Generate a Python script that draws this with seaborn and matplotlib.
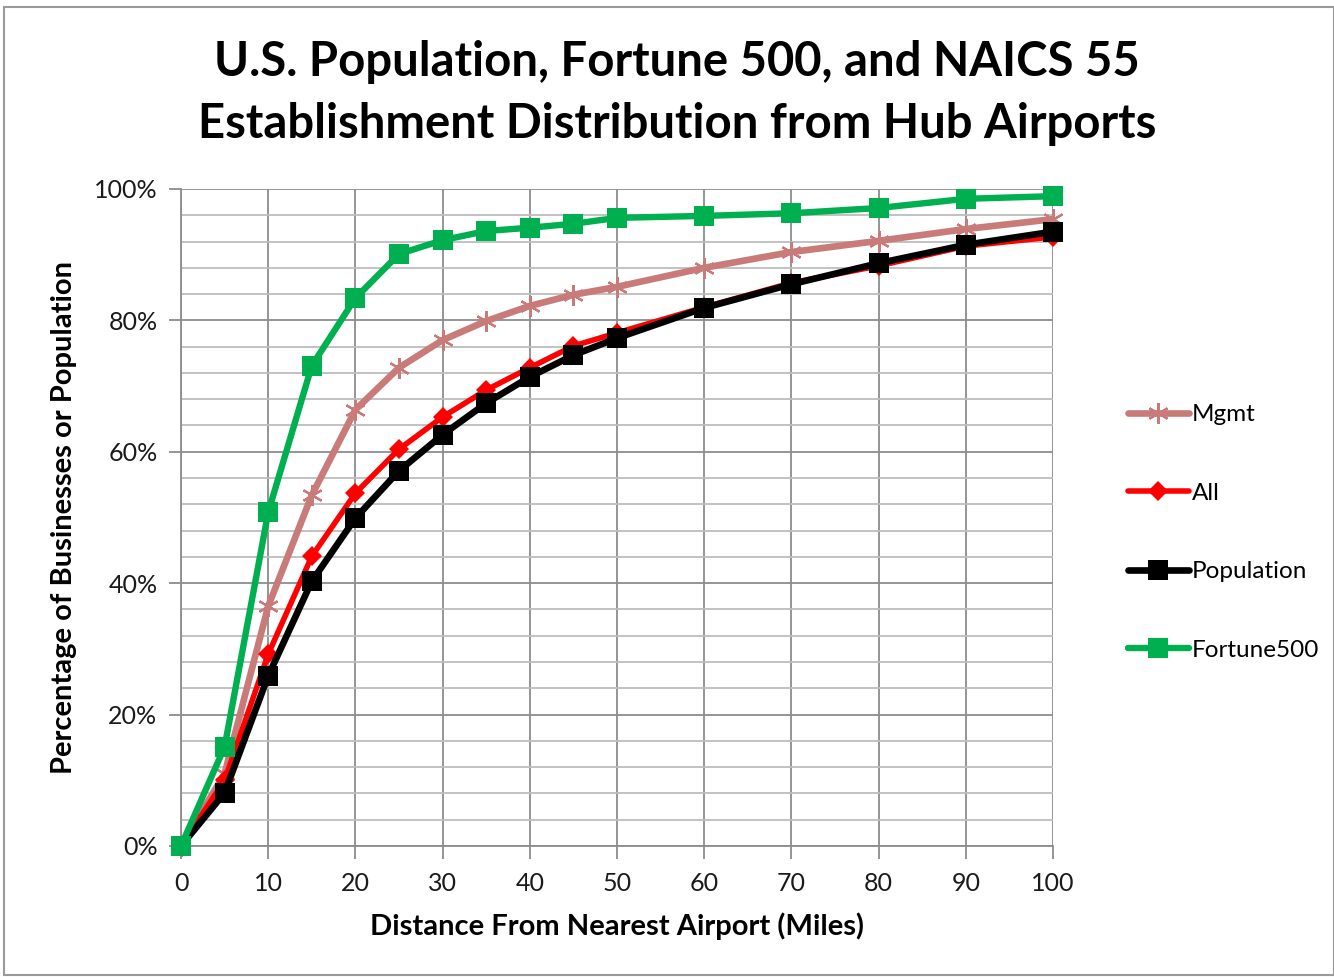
import numpy as np
import pandas as pd
import matplotlib
matplotlib.use("Agg")
import matplotlib.pyplot as plt
from matplotlib.ticker import PercentFormatter, MultipleLocator
from matplotlib.patches import Rectangle
import seaborn as sns

# distance in miles
miles = [0, 5, 10, 15, 20, 25, 30, 35, 40, 45, 50, 60, 70, 80, 90, 100]

# cumulative share
mgmt = [0.0, 0.11, 0.365, 0.534, 0.664, 0.728, 0.770, 0.799, 0.822, 0.839, 0.851, 0.880, 0.904, 0.921, 0.939, 0.954]
all_est = [0.0, 0.10, 0.292, 0.441, 0.537, 0.604, 0.653, 0.694, 0.728, 0.761, 0.781, 0.820, 0.857, 0.883, 0.913, 0.927]
population = [0.0, 0.081, 0.259, 0.403, 0.499, 0.571, 0.626, 0.674, 0.714, 0.747, 0.773, 0.819, 0.855, 0.887, 0.915, 0.935]
fortune500 = [0.0, 0.151, 0.508, 0.731, 0.834, 0.901, 0.922, 0.936, 0.941, 0.947, 0.956, 0.959, 0.963, 0.971, 0.985, 0.989]

series_names = ["Mgmt", "All", "Population", "Fortune500"]

df = pd.DataFrame({"miles": miles, "Mgmt": mgmt, "All": all_est,
                   "Population": population, "Fortune500": fortune500})
long_df = df.melt(id_vars="miles", var_name="series", value_name="share")

sns.set_theme(style="white")
plt.rcParams['font.family'] = ['Lato', 'DejaVu Sans']
plt.rcParams['text.color'] = 'black'
plt.rcParams['axes.labelcolor'] = 'black'

fig = plt.figure(figsize=(13.34, 9.77), dpi=100)
ax = fig.add_axes([0.1357, 0.1341, 0.7894 - 0.1357, 0.8066 - 0.1341])

styles = {
    "Mgmt": dict(color="#C97B7A", marker=(6, 2, 0), markersize=15, lw=4.8, mew=1.6),
    "All": dict(color="#FF0000", marker="D", markersize=10, lw=4.0, mew=0),
    "Population": dict(color="#000000", marker="s", markersize=15, lw=4.8, mew=0),
    "Fortune500": dict(color="#00B050", marker="s", markersize=14.5, lw=4.6, mew=0),
}

for name in series_names:
    st = styles[name]
    sub = long_df[long_df["series"] == name]
    sns.lineplot(data=sub, x="miles", y="share", ax=ax, label=name,
                 color=st["color"], marker=st["marker"], markersize=st["markersize"],
                 linewidth=st["lw"], markeredgewidth=st["mew"],
                 markeredgecolor=st["color"], clip_on=False, zorder=3)

ax.set_xlim(0, 100)
ax.set_ylim(0, 1)
ax.xaxis.set_major_locator(MultipleLocator(10))
ax.yaxis.set_major_locator(MultipleLocator(0.2))
ax.yaxis.set_minor_locator(MultipleLocator(0.04))
ax.yaxis.set_major_formatter(PercentFormatter(1.0, decimals=0))

ax.grid(which="major", axis="both", color="#8C8C8C", lw=1.3)
ax.grid(which="minor", axis="y", color="#BDBDBD", lw=1.3)
ax.set_axisbelow(True)

for sp in ["top", "right"]:
    ax.spines[sp].set_visible(False)
for sp in ["left", "bottom"]:
    ax.spines[sp].set_color("#8C8C8C")
    ax.spines[sp].set_linewidth(1.3)

ax.tick_params(axis="both", which="major", direction="out", length=9, width=1.3,
               color="#8C8C8C", labelsize=18, labelcolor="#1a1a1a")
ax.tick_params(axis="x", which="major", pad=10)
ax.tick_params(axis="y", which="major", pad=8)
ax.tick_params(axis="y", which="minor", length=0)
ax.tick_params(axis="x", bottom=True)
ax.tick_params(axis="y", left=True)

ax.set_xlabel("Distance From Nearest Airport (Miles)", fontsize=21, fontweight="bold",
              labelpad=12)
ax.set_ylabel("Percentage of Businesses or Population", fontsize=21, fontweight="bold",
              labelpad=12)

fig.text(0.5075, 0.905, "U.S. Population, Fortune 500, and NAICS 55\nEstablishment Distribution from Hub Airports",
         ha="center", va="center", fontsize=34, fontweight="bold", linespacing=1.5,
         color="black")

handles, labels = ax.get_legend_handles_labels()
ax.get_legend().remove()
fig.legend(handles, labels, loc="center left", bbox_to_anchor=(0.829, 0.455),
           frameon=False, fontsize=17.5, handlelength=2.5, handletextpad=0.15,
           labelspacing=2.36)

fig.patches.append(Rectangle((0.003, 0.002), 0.997, 0.991, transform=fig.transFigure,
                             fill=False, edgecolor="#9A9A9A", lw=1.5))

fig.savefig("out.png", dpi=100)
